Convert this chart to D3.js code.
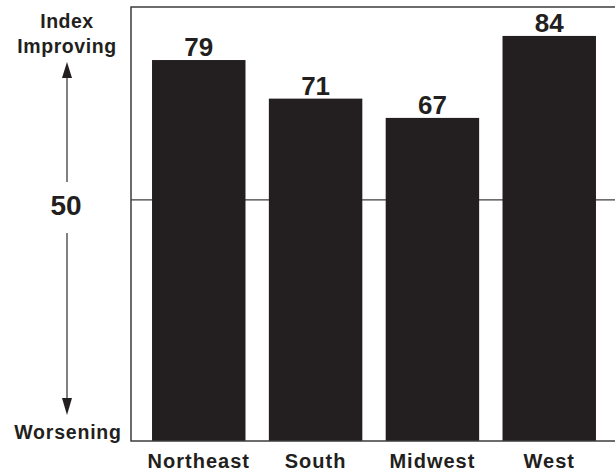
<!DOCTYPE html>
<html>
<head>
<meta charset="utf-8">
<script src="https://cdn.jsdelivr.net/npm/d3@7"></script>
<style>
  html, body { margin: 0; padding: 0; background: #fff; }
  svg { display: block; font-family: "Liberation Sans", Arial, Helvetica, sans-serif; font-weight: bold; }
</style>
</head>
<body>
<svg id="chart" width="615" height="472"></svg>
<script>
// Regional index readings (50 = neutral)
const regions = ["Northeast", "South", "Midwest", "West"];
const indexValues = [79, 71, 67, 84];
const neutralValue = 50;
const yMax = 90;

const svg = d3.select("#chart");
const ink = "#231f20";
const lineInk = "#3d3d3d";

const plot = { left: 131, top: 7, right: 615, bottom: 441 };

const x = d3.scaleBand()
  .domain(regions)
  .range([plot.left, 617])
  .paddingInner(0.2)
  .paddingOuter(0.18);

const y = d3.scaleLinear()
  .domain([0, yMax])
  .range([plot.bottom, plot.top]);

// Neutral reference line at 50, behind the bars
svg.append("line")
  .attr("x1", plot.left).attr("x2", plot.right)
  .attr("y1", y(neutralValue)).attr("y2", y(neutralValue))
  .attr("stroke", lineInk).attr("stroke-width", 1.3);

// Bars
svg.selectAll("rect.bar")
  .data(regions)
  .join("rect")
  .attr("class", "bar")
  .attr("x", d => x(d))
  .attr("width", x.bandwidth())
  .attr("y", (d, i) => y(indexValues[i]))
  .attr("height", (d, i) => y(0) - y(indexValues[i]))
  .attr("fill", ink);

// Value labels
svg.selectAll("text.val")
  .data(regions)
  .join("text")
  .attr("class", "val")
  .attr("x", d => x(d) + x.bandwidth() / 2)
  .attr("y", (d, i) => y(indexValues[i]) - 4)
  .attr("text-anchor", "middle")
  .attr("font-size", 26)
  .attr("fill", ink)
  .text((d, i) => indexValues[i]);

// Frame: left, top and bottom edges (open on the right)
svg.append("path")
  .attr("d", `M${plot.right},${plot.top}H${plot.left}V${plot.bottom}H${plot.right}`)
  .attr("fill", "none")
  .attr("stroke", lineInk)
  .attr("stroke-width", 1.5);

// Category axis labels (no ticks)
const xAxis = d3.axisBottom(x).tickSize(0).tickPadding(0);
const gx = svg.append("g")
  .attr("transform", `translate(0,${plot.bottom})`)
  .call(xAxis);
gx.select(".domain").remove();
gx.selectAll("text")
  .attr("dy", null)
  .attr("y", 27)
  .attr("font-size", 20)
  .attr("letter-spacing", 1)
  .attr("font-family", "'Liberation Sans', Arial, sans-serif")
  .attr("font-weight", "bold")
  .attr("fill", ink);

// Left annotation: direction of the index
const ax = 67;
const leftText = svg.append("g").attr("fill", ink).attr("text-anchor", "middle");
leftText.append("text").attr("x", ax).attr("y", 28).attr("font-size", 19.5).attr("letter-spacing", 0.5).text("Index");
leftText.append("text").attr("x", ax).attr("y", 53).attr("font-size", 19.5).attr("letter-spacing", 0.6).text("Improving");
leftText.append("text").attr("x", 68).attr("y", 439).attr("font-size", 19.5).attr("letter-spacing", 0.8).text("Worsening");
leftText.append("text").attr("x", 66).attr("y", y(neutralValue) + 15).attr("font-size", 28).text(neutralValue);

// Arrow shafts
svg.append("line").attr("x1", ax).attr("x2", ax).attr("y1", 76).attr("y2", 182)
  .attr("stroke", lineInk).attr("stroke-width", 1.3);
svg.append("line").attr("x1", ax).attr("x2", ax).attr("y1", 233).attr("y2", 400)
  .attr("stroke", lineInk).attr("stroke-width", 1.3);

// Arrowheads
svg.append("path").attr("d", `M${ax},62L${ax - 5},78L${ax + 5},78Z`).attr("fill", ink);
svg.append("path").attr("d", `M${ax},415L${ax - 5},398L${ax + 5},398Z`).attr("fill", ink);
</script>
</body>
</html>
